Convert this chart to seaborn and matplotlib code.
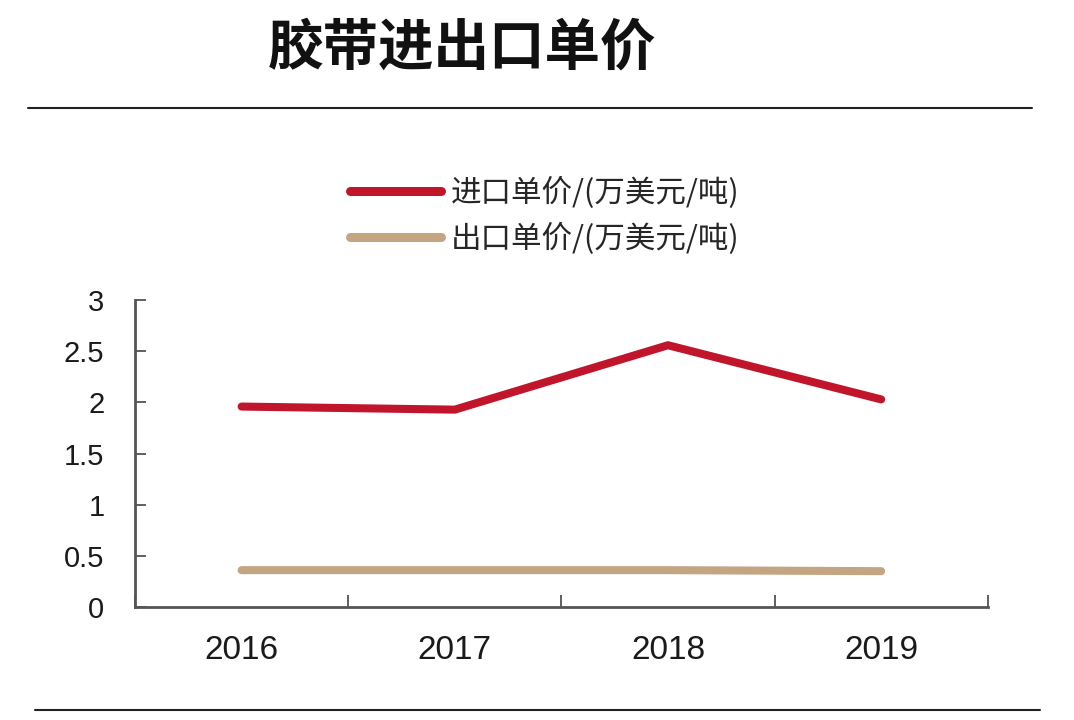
import numpy as np
import pandas as pd
import seaborn as sns
import matplotlib.pyplot as plt
from matplotlib.lines import Line2D

years = ['2016', '2017', '2018', '2019']
import_price = [1.96, 1.93, 2.56, 2.03]
export_price = [0.36, 0.36, 0.36, 0.35]
series_names = ['进口单价/(万美元/吨)', '出口单价/(万美元/吨)']
colors = ['#C0152B', '#C4A582']
y_ticks = [0, 0.5, 1, 1.5, 2, 2.5, 3]
y_labels = ['0', '0.5', '1', '1.5', '2', '2.5', '3']

sns.set_theme(style='white')
plt.rcParams['font.family'] = ['Liberation Sans', 'Noto Sans CJK SC', 'DejaVu Sans']

df = pd.DataFrame({
    'year': years * 2,
    'price': import_price + export_price,
    'series': [series_names[0]] * 4 + [series_names[1]] * 4,
})

fig = plt.figure(figsize=(10.74, 7.2), dpi=100)
ax = fig.add_axes([0.1257, 0.157, 0.794, 0.426])

sns.lineplot(data=df, x='year', y='price', hue='series', palette=colors,
             linewidth=5.8, sort=False, ax=ax, legend=False)

ax.set_xlim(-0.5, 3.5)
ax.set_ylim(0, 3)
ax.set_xlabel('')
ax.set_ylabel('')

# category labels at centres, tick marks at boundaries
ax.set_xticks(range(len(years)))
ax.set_xticklabels(years, fontsize=24, color='#1a1a1a')
ax.tick_params(axis='x', which='major', length=0, pad=20)
ax.set_xticks(np.arange(-0.5, len(years), 1), minor=True)
ax.tick_params(axis='x', which='minor', direction='in', length=9, width=1.2,
               color='#444444', bottom=True)

ax.set_yticks(y_ticks)
ax.set_yticklabels(y_labels, fontsize=21, color='#1a1a1a')
ax.tick_params(axis='y', direction='in', length=8, width=1.2, color='#444444',
               pad=22, left=True)

for s in ['top', 'right']:
    ax.spines[s].set_visible(False)
for s in ['left', 'bottom']:
    ax.spines[s].set_color('#555555')
    ax.spines[s].set_linewidth(2)

handles = [Line2D([], [], color=c, linewidth=6.5, solid_capstyle='round') for c in colors]
fig.legend(handles, series_names, loc='center', bbox_to_anchor=(0.507, 0.70),
           frameon=False, handlelength=3.0, handletextpad=0.3, labelspacing=0.45,
           prop={'family': ['Noto Sans CJK SC'], 'size': 22})

fig.text(0.43, 0.933, '胶带进出口单价', ha='center', va='center', fontsize=40,
         fontweight='bold', family=['Noto Sans CJK SC'], color='#111111')

fig.add_artist(Line2D([0.026, 0.961], [0.85, 0.85], color='#222222', linewidth=1.5))
fig.add_artist(Line2D([0.033, 0.968], [0.014, 0.014], color='#222222', linewidth=1.5))

fig.savefig('out.png', dpi=100)
